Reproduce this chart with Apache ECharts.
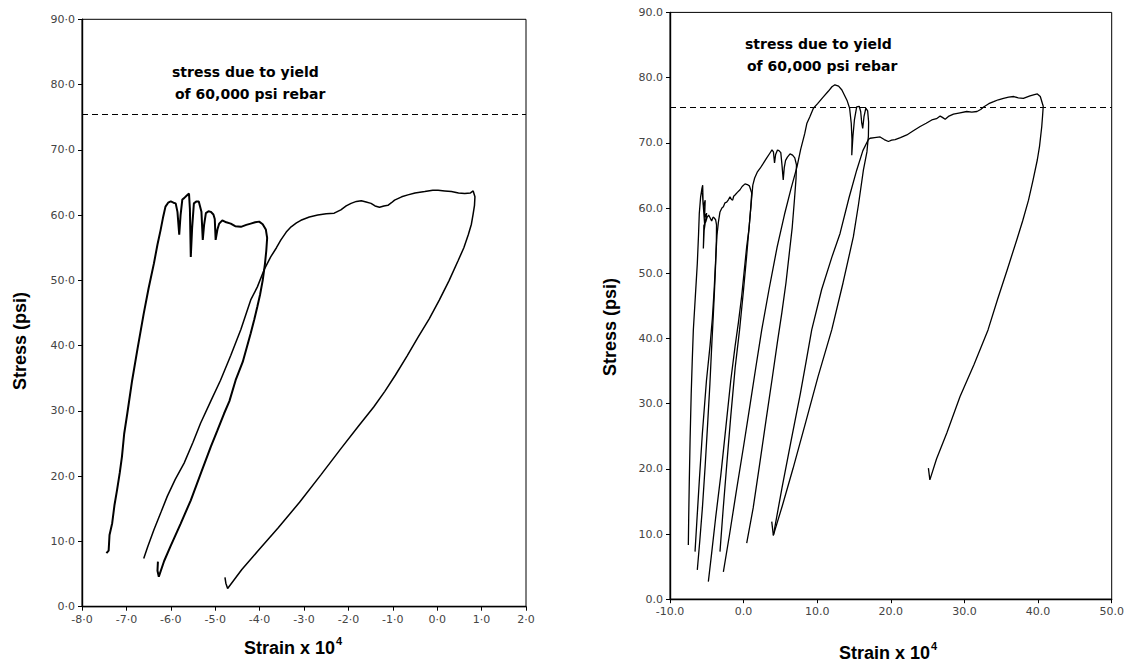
<!DOCTYPE html>
<html>
<head>
<meta charset="utf-8">
<title>Stress - strain loops</title>
<script src="https://cdn.jsdelivr.net/npm/echarts@6/dist/echarts.min.js"></script>
<style>
html, body { margin: 0; padding: 0; background: #fff; }
#chart { width: 1137px; height: 666px; }
</style>
</head>
<body>
<div id="chart"></div>
<script>
// axis ranges: [min, max, interval]
var leftStrainRange = [-8, 2, 1];
var rightStrainRange = [-10, 50, 10];
var stressRange = [0, 90, 10];
var yieldStress = 75.5;

// left specimen: first loop (load, peak fingers, plateau, unload)
var leftCycle1 = [
    [-7.45, 8.2], [-7.40, 8.6], [-7.38, 11.0], [-7.32, 12.8], [-7.27, 15.5], [-7.21, 17.9], [-7.15, 20.5],
    [-7.10, 23.0], [-7.05, 26.5], [-6.98, 29.6], [-6.87, 34.7], [-6.75, 39.5], [-6.61, 44.9], [-6.50, 48.8],
    [-6.38, 52.6], [-6.30, 55.5], [-6.23, 57.7], [-6.17, 59.8], [-6.12, 61.3], [-6.06, 61.9], [-6.00, 62.1],
    [-5.94, 61.9], [-5.89, 61.8], [-5.85, 60.5], [-5.81, 57.0], [-5.78, 60.0], [-5.74, 62.4], [-5.70, 62.6],
    [-5.64, 63.0], [-5.59, 63.3], [-5.57, 61.0], [-5.55, 53.6], [-5.52, 58.0], [-5.48, 61.8], [-5.42, 62.1],
    [-5.37, 62.1], [-5.31, 60.5], [-5.28, 56.2], [-5.25, 58.5], [-5.21, 60.3], [-5.15, 60.6], [-5.10, 60.5],
    [-5.04, 60.1], [-5.01, 59.4], [-4.99, 56.2], [-4.95, 57.8], [-4.91, 58.7], [-4.84, 59.2], [-4.75, 58.9],
    [-4.65, 58.7], [-4.55, 58.3], [-4.42, 58.2], [-4.30, 58.5], [-4.20, 58.7], [-4.10, 58.9], [-4.01, 59.0],
    [-3.93, 58.6], [-3.86, 57.8], [-3.83, 56.5], [-3.85, 54.5], [-3.88, 52.5], [-3.93, 50.0], [-3.99, 47.8],
    [-4.05, 46.0], [-4.12, 44.0], [-4.20, 41.9], [-4.38, 37.5], [-4.54, 34.7], [-4.68, 31.5], [-4.80, 29.6],
    [-4.95, 27.0], [-5.10, 24.5], [-5.32, 20.5], [-5.55, 16.3], [-5.78, 12.7], [-6.01, 9.2], [-6.15, 7.0],
    [-6.27, 4.6], [-6.30, 5.5], [-6.29, 6.9]
];
// left specimen: reload, long plateau, unload
var leftCycle2 = [
    [-6.61, 7.4], [-6.52, 9.2], [-6.38, 11.8], [-6.22, 14.5], [-6.08, 16.9], [-5.90, 19.5], [-5.70, 22.0],
    [-5.50, 25.2], [-5.33, 28.1], [-5.10, 31.5], [-4.88, 34.7], [-4.65, 38.5], [-4.42, 42.5], [-4.20, 47.0],
    [-4.05, 49.0], [-3.90, 51.6], [-3.75, 53.6], [-3.62, 55.0], [-3.52, 56.2], [-3.40, 57.4], [-3.29, 58.2],
    [-3.17, 58.8], [-3.07, 59.2], [-2.88, 59.7], [-2.69, 60.0], [-2.50, 60.2], [-2.32, 60.3], [-2.17, 60.8],
    [-2.05, 61.4], [-1.94, 61.8], [-1.82, 62.1], [-1.71, 62.2], [-1.60, 62.0], [-1.49, 61.8], [-1.40, 61.4],
    [-1.30, 61.2], [-1.20, 61.4], [-1.11, 61.5], [-1.03, 61.9], [-0.96, 62.3], [-0.80, 62.8], [-0.66, 63.1],
    [-0.50, 63.4], [-0.28, 63.6], [-0.10, 63.8], [0.02, 63.8], [0.17, 63.7], [0.32, 63.6], [0.48, 63.4],
    [0.62, 63.3], [0.75, 63.4], [0.81, 63.7], [0.85, 62.8], [0.84, 61.5], [0.81, 60.2], [0.77, 58.6],
    [0.70, 57.0], [0.60, 55.0], [0.47, 53.0], [0.27, 50.0], [0.05, 47.0], [-0.18, 44.1], [-0.43, 41.3],
    [-0.68, 38.4], [-0.94, 35.5], [-1.18, 33.0], [-1.43, 30.6], [-1.78, 27.6], [-2.16, 24.3], [-2.62, 20.2],
    [-3.10, 16.0], [-3.58, 12.1], [-4.03, 8.6], [-4.40, 5.7], [-4.72, 2.8], [-4.76, 3.6], [-4.78, 4.5]
];

// right specimen: five load / unload cycles
var rightCycle1 = [
    [-7.51, 8.3], [-7.46, 12.5], [-7.38, 18.0], [-7.27, 24.5], [-7.12, 31.5], [-6.98, 36.5], [-6.83, 41.3],
    [-6.56, 46.4], [-6.29, 51.5], [-6.12, 56.0], [-6.02, 59.2], [-5.84, 61.7], [-5.66, 63.0], [-5.56, 63.5],
    [-5.50, 60.5], [-5.60, 62.4], [-5.40, 59.4], [-5.52, 61.0], [-5.30, 57.6], [-5.44, 60.2], [-5.22, 61.2],
    [-5.30, 58.6], [-5.02, 59.2], [-5.36, 56.6], [-5.47, 53.8], [-5.40, 57.3], [-5.14, 57.9], [-4.95, 58.6],
    [-4.75, 58.9], [-4.56, 58.5], [-4.34, 58.0], [-4.15, 58.6], [-4.00, 58.5], [-3.80, 58.2], [-3.68, 57.4],
    [-3.70, 55.0], [-3.80, 51.5], [-3.95, 47.5], [-4.12, 43.5], [-4.34, 38.7], [-4.58, 33.0], [-4.88, 27.0],
    [-5.22, 20.5], [-5.60, 14.0], [-5.95, 9.0], [-6.29, 4.5]
];
var rightCycle2 = [
    [-6.60, 7.3], [-6.35, 12.0], [-6.00, 18.5], [-5.60, 25.5], [-5.05, 33.5], [-4.55, 39.0], [-4.25, 43.0],
    [-4.00, 47.5], [-3.80, 52.0], [-3.62, 55.8], [-3.43, 57.8], [-3.21, 59.4], [-2.95, 60.0], [-2.75, 60.2],
    [-2.53, 60.8], [-2.30, 60.9], [-2.05, 61.3], [-1.85, 61.7], [-1.65, 61.3], [-1.49, 61.2], [-1.35, 61.8],
    [-1.17, 62.0], [-0.85, 62.4], [-0.49, 62.8], [-0.20, 63.3], [0.19, 63.7], [0.50, 63.6], [0.78, 63.4],
    [0.96, 62.8], [1.10, 62.3], [0.98, 60.2], [0.75, 57.0], [0.42, 54.1], [0.05, 50.0], [-0.26, 46.5],
    [-0.70, 42.5], [-1.17, 38.7], [-1.75, 33.5], [-2.40, 26.5], [-3.10, 19.0], [-3.80, 12.5], [-4.35, 7.0],
    [-4.79, 2.7]
];
var rightCycle3 = [
    [-3.21, 7.3], [-2.80, 13.5], [-2.30, 20.5], [-1.75, 28.0], [-1.15, 35.5], [-0.55, 41.3], [-0.05, 47.0],
    [0.40, 52.5], [0.78, 57.5], [1.05, 61.0], [1.25, 63.5], [1.50, 64.6], [1.85, 65.5], [2.25, 66.1],
    [2.65, 66.8], [3.10, 67.6], [3.56, 68.4], [3.85, 68.9], [4.05, 68.6], [4.20, 66.9], [4.35, 68.2],
    [4.60, 68.9], [4.80, 68.8], [5.05, 68.5], [5.22, 66.5], [5.38, 64.3], [5.52, 66.2], [5.70, 67.3],
    [5.95, 67.8], [6.31, 68.3], [6.65, 68.1], [6.95, 67.7], [7.18, 66.6], [7.12, 64.5], [6.92, 61.5],
    [6.60, 57.0], [6.20, 53.0], [5.75, 48.5], [5.20, 44.0], [4.60, 39.5], [3.90, 34.0], [3.05, 27.5],
    [2.15, 20.5], [1.30, 14.0], [0.42, 8.6]
];
var rightCycle4 = [
    [-2.75, 4.2], [-1.90, 10.0], [-1.00, 16.5], [0.00, 23.5], [0.90, 30.0], [1.65, 35.5], [2.46, 41.3],
    [3.45, 47.5], [4.55, 54.0], [5.55, 59.0], [6.45, 63.0], [7.25, 66.3], [7.75, 69.0], [8.30, 71.4],
    [8.60, 73.0], [9.00, 74.0], [9.48, 75.3], [10.05, 76.0], [10.80, 77.0], [11.50, 77.9], [12.00, 78.6],
    [12.40, 78.9], [12.90, 78.7], [13.35, 78.1], [13.70, 77.3], [14.05, 76.5], [14.40, 75.3], [14.62, 73.0],
    [14.72, 70.5], [14.69, 68.1], [14.85, 71.0], [15.05, 73.5], [15.36, 75.5], [15.70, 75.6], [15.90, 74.8],
    [16.05, 73.0], [16.18, 72.2], [16.35, 74.0], [16.60, 75.3], [16.85, 74.9], [16.98, 73.2], [16.95, 71.0],
    [16.75, 68.6], [16.27, 65.8], [15.60, 60.5], [14.91, 55.6], [13.50, 48.5], [11.97, 41.3], [10.10, 34.1],
    [8.40, 27.0], [6.70, 20.0], [5.25, 14.3], [4.04, 9.8], [3.82, 11.9]
];
var rightCycle5 = [
    [4.04, 9.8], [5.20, 17.0], [6.40, 24.0], [7.70, 31.5], [8.50, 36.5], [9.25, 41.3], [10.60, 47.5],
    [12.00, 52.5], [13.10, 56.1], [14.30, 61.5], [15.36, 65.8], [16.20, 68.8], [16.95, 70.5], [17.18, 70.7],
    [17.80, 70.8], [18.54, 70.9], [19.10, 70.5], [19.67, 70.2], [20.10, 70.4], [20.58, 70.5], [21.30, 70.8],
    [22.17, 71.2], [23.00, 71.8], [23.98, 72.5], [24.80, 73.0], [25.56, 73.5], [26.20, 73.7], [26.70, 74.1],
    [27.00, 73.9], [27.38, 73.6], [27.90, 74.1], [28.50, 74.4], [29.40, 74.6], [30.30, 74.8], [31.00, 74.7],
    [31.70, 74.8], [32.20, 75.1], [32.60, 75.5], [33.30, 76.0], [33.96, 76.3], [34.60, 76.6], [35.30, 76.8],
    [36.00, 77.0], [36.70, 77.1], [37.30, 76.9], [38.00, 76.8], [38.90, 77.2], [39.50, 77.4], [39.90, 77.5],
    [40.30, 77.1], [40.70, 75.6], [40.60, 74.0], [40.50, 72.5], [40.20, 69.5], [39.90, 67.4], [39.30, 64.2],
    [38.70, 61.2], [37.90, 58.0], [37.10, 55.1], [35.80, 50.5], [34.50, 46.0], [33.20, 41.3], [31.30, 36.0],
    [29.40, 31.1], [27.60, 25.5], [26.20, 21.5], [25.30, 18.3], [25.10, 20.1]
];

var chart = echarts.init(document.getElementById('chart'), null, { renderer: 'svg' });

var tickFont = { color: '#444', fontSize: 11, fontFamily: 'DejaVu Sans' };
var titleFont = 'bold 18px "Liberation Sans"';
var noteFont = 'bold 14px "DejaVu Sans"';

function dotLabel(v) { return v.toFixed(1).replace('.', '·'); }
function pointLabel(v) { return v.toFixed(1); }

function valueAxis(range, fmt, extra) {
    var ax = {
        type: 'value',
        min: range[0], max: range[1], interval: range[2],
        axisLine: { show: true, onZero: false, lineStyle: { color: '#000', width: 1.4 } },
        axisTick: { show: true, length: 4, lineStyle: { color: '#000' } },
        axisLabel: Object.assign({ formatter: fmt, margin: 7 }, tickFont),
        splitLine: { show: false }
    };
    return Object.assign(ax, extra);
}

function curve(data, idx, width) {
    return {
        type: 'line',
        xAxisIndex: idx, yAxisIndex: idx,
        data: data,
        showSymbol: false,
        symbol: 'none',
        silent: true,
        lineStyle: { color: '#000', width: width }
    };
}

function yieldLine() {
    return {
        silent: true,
        symbol: 'none',
        label: { show: false },
        lineStyle: { color: '#000', type: [6, 4], width: 1.2 },
        data: [{ yAxis: yieldStress }]
    };
}

// x-axis title with raised exponent
function strainTitle(x, y) {
    return {
        type: 'text', x: x, y: y,
        style: {
            text: '{m|Strain x 10}{sup|4}', fill: '#000', align: 'center', verticalAlign: 'middle',
            rich: {
                m: { font: titleFont, verticalAlign: 'bottom' },
                sup: { font: 'bold 11px "Liberation Sans"', verticalAlign: 'top', padding: [0, 0, 11, 1] }
            }
        }
    };
}

var s1 = curve(leftCycle1, 0, 2);
s1.markLine = yieldLine();
var s3 = curve(rightCycle1, 1, 1.3);
s3.markLine = yieldLine();

var option = {
    animation: false,
    backgroundColor: '#fff',
    grid: [
        { left: 82, top: 19.3, width: 444, height: 587.4, show: true, borderColor: '#000', borderWidth: 1 },
        { left: 670, top: 12.4, width: 441.7, height: 586.8, show: true, borderColor: '#000', borderWidth: 1 }
    ],
    xAxis: [
        valueAxis(leftStrainRange, dotLabel, { gridIndex: 0 }),
        valueAxis(rightStrainRange, pointLabel, { gridIndex: 1 })
    ],
    yAxis: [
        valueAxis(stressRange, dotLabel, { gridIndex: 0 }),
        valueAxis(stressRange, pointLabel, { gridIndex: 1 })
    ],
    graphic: [
        { type: 'text', x: 20, y: 341, rotation: Math.PI / 2,
          style: { text: 'Stress (psi)', font: titleFont, fill: '#000', align: 'center', verticalAlign: 'middle' } },
        { type: 'text', x: 610, y: 327, rotation: Math.PI / 2,
          style: { text: 'Stress (psi)', font: titleFont, fill: '#000', align: 'center', verticalAlign: 'middle' } },
        strainTitle(293, 646),
        strainTitle(888, 651),
        { type: 'text', x: 172, y: 72,
          style: { text: 'stress due to yield', font: noteFont, fill: '#000', align: 'left', verticalAlign: 'middle' } },
        { type: 'text', x: 175, y: 94,
          style: { text: 'of 60,000 psi rebar', font: noteFont, fill: '#000', align: 'left', verticalAlign: 'middle' } },
        { type: 'text', x: 745, y: 44,
          style: { text: 'stress due to yield', font: noteFont, fill: '#000', align: 'left', verticalAlign: 'middle' } },
        { type: 'text', x: 747, y: 66,
          style: { text: 'of 60,000 psi rebar', font: noteFont, fill: '#000', align: 'left', verticalAlign: 'middle' } }
    ],
    series: [
        s1,
        curve(leftCycle2, 0, 1.5),
        s3,
        curve(rightCycle2, 1, 1.3),
        curve(rightCycle3, 1, 1.3),
        curve(rightCycle4, 1, 1.3),
        curve(rightCycle5, 1, 1.3)
    ]
};

chart.setOption(option);
</script>
</body>
</html>
